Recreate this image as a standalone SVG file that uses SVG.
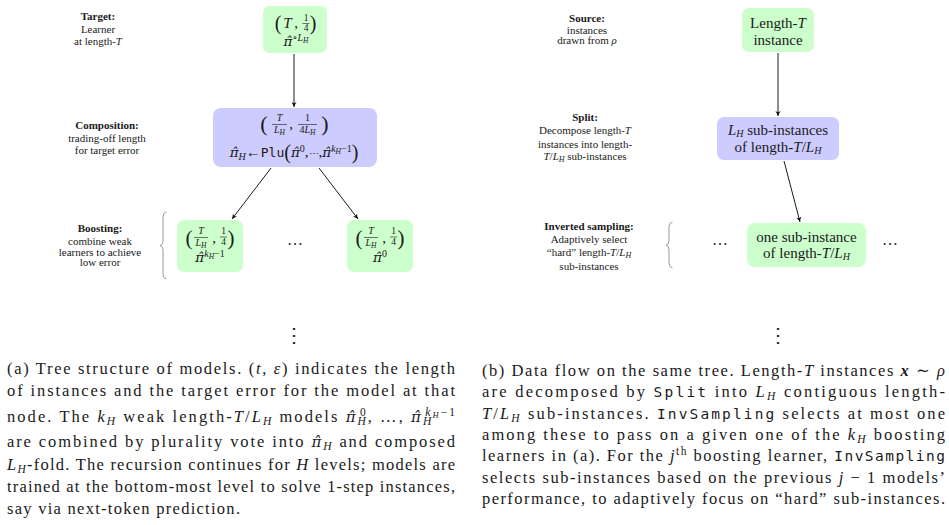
<svg xmlns="http://www.w3.org/2000/svg" width="949" height="525" viewBox="0 0 949 525">
<style>
text { font-family: 'Liberation Serif', 'DejaVu Serif', serif; fill: #1a1a1a; }
.lbl { font-size: 11px; text-anchor: middle; }
.b { font-weight: bold; }
.nt { font-size: 15px; text-anchor: middle; }
.m { text-anchor: middle; }
.it { font-style: italic; }
.pi { font-family: 'DejaVu Serif', 'Liberation Serif', serif; font-style: italic; }
.cap { font-size: 16.5px; }
.mono { font-family: 'DejaVu Sans Mono', 'Liberation Mono', monospace; font-style: normal; }
.green { fill: #ccffcc; }
.purple { fill: #ccccff; }
.bar { stroke: #1a1a1a; stroke-width: 0.6; }
.brace { fill: none; stroke: #808080; stroke-width: 0.8; }
#connectors line { stroke: #000; stroke-width: 0.9; marker-end: url(#arr); }
</style>
<defs>
<marker id="arr" viewBox="-6 -3 7 6" refX="0" refY="0" markerWidth="7" markerHeight="6" markerUnits="userSpaceOnUse" orient="auto">
<path d="M-5,-2.6 Q-2,-0.6 0,0 Q-2,0.6 -5,2.6 L-3.6,0 Z" fill="#000"/>
</marker>
</defs>
<rect width="949" height="525" fill="#fff"/>

<!-- Left panel labels -->
<g id="labels-left">
<text class="lbl b" x="98" y="20">Target:</text>
<text class="lbl" x="98" y="33">Learner</text>
<text class="lbl" x="98" y="45">at length-<tspan class="it">T</tspan></text>
<text class="lbl b" x="107" y="129">Composition:</text>
<text class="lbl" x="107" y="141.5">trading-off length</text>
<text class="lbl" x="107" y="154">for target error</text>
<text class="lbl b" x="100" y="232">Boosting:</text>
<text class="lbl" x="100" y="245">combine weak</text>
<text class="lbl" x="100" y="255.5">learners to achieve</text>
<text class="lbl" x="100" y="266">low error</text>
</g>

<!-- Left panel nodes -->
<g id="n-target">
<rect class="green" x="263" y="6" width="64" height="47" rx="7"/>
<text class="m" x="278" y="30" font-size="20">(</text>
<text class="m it" x="287.5" y="28" font-size="15">T</text>
<text class="m" x="296" y="28" font-size="15">,</text>
<text class="m" x="306" y="21" font-size="9.5">1</text>
<line class="bar" x1="302.5" y1="23.5" x2="309.5" y2="23.5"/>
<text class="m" x="306" y="31" font-size="9.5">4</text>
<text class="m" x="313" y="30" font-size="20">)</text>
<text class="m" x="296" y="46" font-size="15"><tspan class="pi" font-size="13.5">π̂</tspan><tspan font-size="10" dy="-5">∘</tspan><tspan class="it" font-size="10">L</tspan><tspan class="it" font-size="7.5" dy="2">H</tspan></text>
</g>

<g id="n-compose">
<rect class="purple" x="213" y="108" width="164" height="59" rx="8"/>
<text class="m" x="264" y="131" font-size="22">(</text>
<text class="m it" x="279.5" y="121" font-size="10">T</text>
<line class="bar" x1="272" y1="124.5" x2="287" y2="124.5"/>
<text class="m it" x="279.5" y="133" font-size="10">L<tspan font-size="7.5" dy="1.5">H</tspan></text>
<text class="m" x="291" y="129" font-size="15">,</text>
<text class="m" x="307.5" y="121" font-size="10">1</text>
<line class="bar" x1="298" y1="124.5" x2="317" y2="124.5"/>
<text class="m" x="307.5" y="133" font-size="10">4<tspan class="it">L</tspan><tspan class="it" font-size="7.5" dy="1.5">H</tspan></text>
<text class="m" x="325" y="131" font-size="22">)</text>
<text class="m" x="294" y="157" font-size="15"><tspan class="pi" font-size="13.5">π̂</tspan><tspan class="it" font-size="10" dy="3">H</tspan><tspan dy="-3">←</tspan><tspan class="mono" font-size="13">Plu</tspan><tspan font-size="20" dy="1.5">(</tspan><tspan class="pi" font-size="13.5" dy="-1.5">π̂</tspan><tspan font-size="10" dy="-5">0</tspan><tspan dy="5">,</tspan><tspan font-size="10">⋯</tspan><tspan>,</tspan><tspan class="pi" font-size="13.5">π̂</tspan><tspan class="it" font-size="10" dy="-5">k</tspan><tspan class="it" font-size="7.5" dy="2">H</tspan><tspan font-size="10" dy="-2">−1</tspan><tspan font-size="20" dy="6.5">)</tspan></text>
</g>

<g id="n-boost-left">
<rect class="green" x="177" y="220" width="66" height="52" rx="7"/>
<text class="m" x="189" y="245" font-size="21">(</text>
<text class="m it" x="201" y="234" font-size="10">T</text>
<line class="bar" x1="194" y1="237.5" x2="208" y2="237.5"/>
<text class="m it" x="201" y="246" font-size="10">L<tspan font-size="7.5" dy="1.5">H</tspan></text>
<text class="m" x="214" y="243" font-size="15">,</text>
<text class="m" x="223.5" y="234" font-size="9.5">1</text>
<line class="bar" x1="220" y1="237" x2="227" y2="237"/>
<text class="m" x="223.5" y="244.5" font-size="9.5">4</text>
<text class="m" x="231" y="245" font-size="21">)</text>
<text class="m" x="210" y="262" font-size="15"><tspan class="pi" font-size="13.5">π̂</tspan><tspan class="it" font-size="10" dy="-5">k</tspan><tspan class="it" font-size="7.5" dy="2">H</tspan><tspan font-size="10" dy="-2">−1</tspan></text>
</g>

<g id="n-boost-right">
<rect class="green" x="347" y="220" width="66" height="52" rx="7"/>
<text class="m" x="359" y="245" font-size="21">(</text>
<text class="m it" x="371" y="234" font-size="10">T</text>
<line class="bar" x1="364" y1="237.5" x2="378" y2="237.5"/>
<text class="m it" x="371" y="246" font-size="10">L<tspan font-size="7.5" dy="1.5">H</tspan></text>
<text class="m" x="384" y="243" font-size="15">,</text>
<text class="m" x="393.5" y="234" font-size="9.5">1</text>
<line class="bar" x1="390" y1="237" x2="397" y2="237"/>
<text class="m" x="393.5" y="244.5" font-size="9.5">4</text>
<text class="m" x="401" y="245" font-size="21">)</text>
<text class="m" x="380" y="262" font-size="15"><tspan class="pi" font-size="13.5">π̂</tspan><tspan font-size="10" dy="-5">0</tspan></text>
</g>

<g id="decor-left">
<text class="m" x="295" y="245" font-size="16">…</text>
<path class="brace" d="M166.5,212 Q163,212.5 163,217 L163,240 Q163,245 160,245.5 Q163,246 163,251 L163,274 Q163,278.5 166.5,279"/>
<text class="m" x="294" y="342" font-size="20" font-family="'DejaVu Sans', sans-serif">⋮</text>
</g>

<!-- Right panel labels -->
<g id="labels-right">
<text class="lbl b" x="587" y="22">Source:</text>
<text class="lbl" x="587" y="34">instances</text>
<text class="lbl" x="587" y="44">drawn from <tspan class="it">ρ</tspan></text>
<text class="lbl b" x="585" y="121">Split:</text>
<text class="lbl" x="585" y="134">Decompose length-<tspan class="it">T</tspan></text>
<text class="lbl" x="585" y="147.5">instances into length-</text>
<text class="lbl" x="585" y="160"><tspan class="it">T</tspan>/<tspan class="it">L</tspan><tspan class="it" font-size="8" dy="2">H</tspan><tspan dy="-2"> sub-instances</tspan></text>
<text class="lbl b" x="589" y="230">Inverted sampling:</text>
<text class="lbl" x="589" y="243">Adaptively select</text>
<text class="lbl" x="589" y="256">“hard” length-<tspan class="it">T</tspan>/<tspan class="it">L</tspan><tspan class="it" font-size="8" dy="2">H</tspan></text>
<text class="lbl" x="589" y="270">sub-instances</text>
</g>

<!-- Right panel nodes -->
<g id="n-source">
<rect class="green" x="742" y="8" width="72" height="44" rx="7"/>
<text class="nt" x="778" y="28">Length-<tspan class="it">T</tspan></text>
<text class="nt" x="778" y="44.5">instance</text>
</g>

<g id="n-split">
<rect class="purple" x="717" y="117" width="122" height="43" rx="7"/>
<text class="nt" x="778" y="134.5"><tspan class="it">L</tspan><tspan class="it" font-size="10" dy="2.5">H</tspan><tspan dy="-2.5"> sub-instances</tspan></text>
<text class="nt" x="778" y="151.5">of length-<tspan class="it">T</tspan>/<tspan class="it">L</tspan><tspan class="it" font-size="10" dy="2.5">H</tspan></text>
</g>

<g id="n-sample">
<rect class="green" x="747" y="223" width="119" height="44" rx="8"/>
<text class="nt" x="806.5" y="242">one sub-instance</text>
<text class="nt" x="806.5" y="257.5">of length-<tspan class="it">T</tspan>/<tspan class="it">L</tspan><tspan class="it" font-size="10" dy="2.5">H</tspan></text>
</g>

<g id="decor-right">
<text class="m" x="720" y="245" font-size="16">…</text>
<text class="m" x="890" y="245" font-size="16">…</text>
<path class="brace" d="M672.5,222 Q669,222.5 669,227 L669,240 Q669,244.5 666,245 Q669,245.5 669,250 L669,263 Q669,267.5 672.5,268"/>
<text class="m" x="778" y="342" font-size="20" font-family="'DejaVu Sans', sans-serif">⋮</text>
</g>

<!-- Connectors -->
<g id="connectors">
<line x1="294" y1="54" x2="294" y2="107"/>
<line x1="271" y1="168" x2="232" y2="219"/>
<line x1="319" y1="168" x2="358" y2="219"/>
<line x1="778" y1="53" x2="778" y2="116"/>
<line x1="784" y1="161" x2="800" y2="222"/>
</g>

<!-- Captions -->
<g id="caption-a">
<text class="cap" x="7" y="374" textLength="448" lengthAdjust="spacing">(a) Tree structure of models. (<tspan class="it">t</tspan>, <tspan class="it">ε</tspan>) indicates the length</text>
<text class="cap" x="7" y="396" textLength="448" lengthAdjust="spacing">of instances and the target error for the model at that</text>
<text class="cap" x="7" y="422" textLength="448" lengthAdjust="spacing">node. The <tspan class="it">k</tspan><tspan class="it" font-size="11.5" dy="3">H</tspan><tspan dy="-3"> weak length-</tspan><tspan class="it">T</tspan>/<tspan class="it">L</tspan><tspan class="it" font-size="11.5" dy="3">H</tspan><tspan dy="-3"> models </tspan><tspan class="pi" font-size="15">π̂</tspan><tspan class="it" font-size="11.5" dy="3">H</tspan><tspan font-size="11.5" dx="-8" dy="-9">0</tspan><tspan dy="6">, …, </tspan><tspan class="pi" font-size="15">π̂</tspan><tspan class="it" font-size="11.5" dy="3">H</tspan><tspan class="it" font-size="11.5" dx="-8" dy="-9">k</tspan><tspan class="it" font-size="8.5" dy="2">H</tspan><tspan font-size="11.5" dy="-2">−1</tspan></text>
<text class="cap" x="7" y="447" textLength="448" lengthAdjust="spacing">are combined by plurality vote into <tspan class="pi" font-size="15">π̂</tspan><tspan class="it" font-size="11.5" dy="3">H</tspan><tspan dy="-3"> and composed</tspan></text>
<text class="cap" x="7" y="469.5" textLength="448" lengthAdjust="spacing"><tspan class="it">L</tspan><tspan class="it" font-size="11.5" dy="3">H</tspan><tspan dy="-3">-fold. The recursion continues for </tspan><tspan class="it">H</tspan> levels; models are</text>
<text class="cap" x="7" y="492" textLength="448" lengthAdjust="spacing">trained at the bottom-most level to solve 1-step instances,</text>
<text class="cap" x="7" y="513.5" textLength="233" lengthAdjust="spacing">say via next-token prediction.</text>
</g>

<g id="caption-b">
<text class="cap" x="482" y="376" textLength="463" lengthAdjust="spacing">(b) Data flow on the same tree. Length-<tspan class="it">T</tspan> instances <tspan class="it b">x</tspan> ∼ <tspan class="it">ρ</tspan></text>
<text class="cap" x="482" y="397" textLength="463" lengthAdjust="spacing">are decomposed by <tspan class="mono" font-size="14.5">Split</tspan> into <tspan class="it">L</tspan><tspan class="it" font-size="11.5" dy="3">H</tspan><tspan dy="-3"> contiguous length-</tspan></text>
<text class="cap" x="482" y="418.5" textLength="463" lengthAdjust="spacing"><tspan class="it">T</tspan>/<tspan class="it">L</tspan><tspan class="it" font-size="11.5" dy="3">H</tspan><tspan dy="-3"> sub-instances. </tspan><tspan class="mono" font-size="14.5">InvSampling</tspan> selects at most one</text>
<text class="cap" x="482" y="439.5" textLength="463" lengthAdjust="spacing">among these to pass on a given one of the <tspan class="it">k</tspan><tspan class="it" font-size="11.5" dy="3">H</tspan><tspan dy="-3"> boosting</tspan></text>
<text class="cap" x="482" y="461" textLength="463" lengthAdjust="spacing">learners in (a). For the <tspan class="it">j</tspan><tspan font-size="11.5" dy="-6">th</tspan><tspan dy="6"> boosting learner, </tspan><tspan class="mono" font-size="14.5">InvSampling</tspan></text>
<text class="cap" x="482" y="482.5" textLength="463" lengthAdjust="spacing">selects sub-instances based on the previous <tspan class="it">j</tspan> − 1 models’</text>
<text class="cap" x="482" y="504" textLength="463" lengthAdjust="spacing">performance, to adaptively focus on “hard” sub-instances.</text>
</g>
</svg>
